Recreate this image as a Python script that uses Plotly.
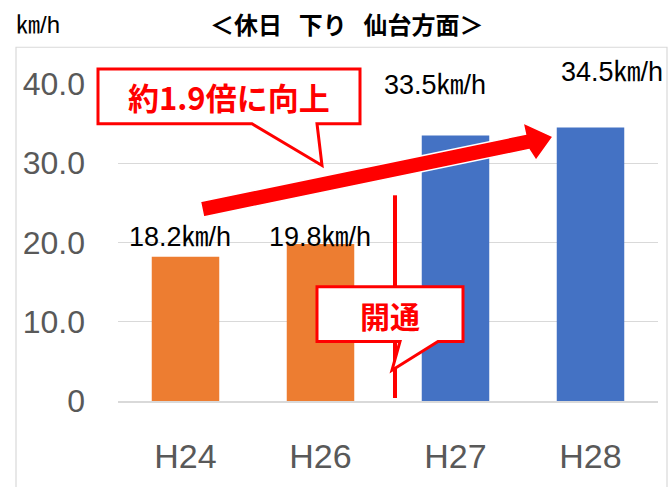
import plotly.graph_objects as go

# ---- data ----
categories = ["H24", "H26", "H27", "H28"]
speeds = [18.2, 19.8, 33.5, 34.5]
bar_colors = ["#ED7D31", "#ED7D31", "#4472C4", "#4472C4"]
y_tickvals = [0, 10, 20, 30, 40]
y_ticktext = ["0", "10.0", "20.0", "30.0", "40.0"]
title_text = "＜休日\u2002\u2009下り\u2002\u2009仙台方面＞"
unit_text = "㎞/h"
callout_ratio_text = "約1.9倍に向上"
callout_open_text = "開通"

# label placement (layout, not data): pixel centres
label_px = [(180, 238), (320, 238), (435, 85), (612, 72)]

W, H = 671, 487
ML, MR, MT, MB = 118, 13, 84, 84
PW, PH = W - ML - MR, H - MT - MB


def px(x):
    return (x - ML) / PW


def py(y):
    return (H - MB - y) / PH


def path(points):
    return "M " + " L ".join(f"{px(a):.5f},{py(b):.5f}" for a, b in points) + " Z"


fig = go.Figure()
fig.add_trace(go.Bar(
    x=categories, y=speeds, marker=dict(color=bar_colors, line=dict(width=0)),
    width=0.5, hoverinfo="skip",
))

shapes = []
# outer chart border
shapes.append(dict(type="rect", xref="paper", yref="paper",
                   x0=px(16), x1=px(667), y0=py(500), y1=py(47),
                   line=dict(color="#D9D9D9", width=1.2), fillcolor="rgba(0,0,0,0)",
                   layer="below"))
# vertical red "opening" line
shapes.append(dict(type="line", xref="paper", yref="paper",
                   x0=px(395), x1=px(395), y0=py(196), y1=py(400),
                   line=dict(color="#FF0000", width=4), layer="above"))
# big red arrow
arrow_pts = [(200.4, 202.2), (525.5, 134.5), (523.0, 123.0), (553.0, 137.0),
             (536.0, 161.0), (529.0, 150.0), (203.6, 217.8)]
shapes.append(dict(type="path", xref="paper", yref="paper", path=path(arrow_pts),
                   fillcolor="#FF0000", line=dict(color="white", width=1.5), layer="above"))
# callout 1
c1 = [(98, 69), (360, 69), (360, 124), (317, 124), (322, 166), (252, 124), (98, 124)]
shapes.append(dict(type="path", xref="paper", yref="paper", path=path(c1),
                   fillcolor="white", line=dict(color="#FF0000", width=3), layer="above"))
# callout 2
c2 = [(317, 288), (463, 288), (463, 343), (438, 343), (392, 372), (400, 343), (317, 343)]
shapes.append(dict(type="path", xref="paper", yref="paper", path=path(c2),
                   fillcolor="white", line=dict(color="#FF0000", width=3), layer="above"))

annotations = []
for (c, v, (lx, ly)) in zip(categories, speeds, label_px):
    annotations.append(dict(
        x=px(lx), y=py(ly), xref="paper", yref="paper",
        text=f"{v}{unit_text}", showarrow=False,
        font=dict(size=27, color="#000000", family="Liberation Sans, Arial, Noto Sans CJK JP"),
        xanchor="center", yanchor="middle",
    ))
annotations.append(dict(x=px(347), y=py(23), xref="paper", yref="paper",
                        text=f"<b>{title_text}</b>", showarrow=False,
                        font=dict(size=24, color="#000000", family="Noto Sans CJK JP"),
                        xanchor="center", yanchor="middle"))
annotations.append(dict(x=px(14), y=py(24), xref="paper", yref="paper",
                        text=unit_text, showarrow=False,
                        font=dict(size=24, color="#000000", family="Liberation Sans, Noto Sans CJK JP"),
                        xanchor="left", yanchor="middle"))
annotations.append(dict(x=px(229), y=py(97), xref="paper", yref="paper",
                        text=f"<b>{callout_ratio_text}</b>", showarrow=False,
                        font=dict(size=31, color="#FF0000", family="Noto Sans CJK JP"),
                        xanchor="center", yanchor="middle"))
annotations.append(dict(x=px(390), y=py(316), xref="paper", yref="paper",
                        text=f"<b>{callout_open_text}</b>", showarrow=False,
                        font=dict(size=30, color="#FF0000", family="Noto Sans CJK JP"),
                        xanchor="center", yanchor="middle"))

fig.update_layout(
    width=W, height=H,
    margin=dict(l=ML, r=MR, t=MT, b=MB, pad=0),
    paper_bgcolor="white", plot_bgcolor="white",
    showlegend=False, bargap=0.5,
    shapes=shapes, annotations=annotations,
    xaxis=dict(
        type="category", showgrid=False, showline=True, linecolor="#D9D9D9", linewidth=1.5,
        ticks="", tickfont=dict(size=34, color="#595959", family="Liberation Sans, Arial"),
        ticklabelstandoff=24, fixedrange=True,
    ),
    yaxis=dict(
        range=[0, 40], tickvals=y_tickvals, ticktext=y_ticktext,
        showgrid=True, gridcolor="#D9D9D9", gridwidth=1.2, zeroline=False,
        showline=False, ticks="",
        tickfont=dict(size=32, color="#595959", family="Liberation Sans, Arial"),
        ticklabelstandoff=32, fixedrange=True,
    ),
)

fig.write_html("out.html", config={"displayModeBar": False},
               post_script="document.body.style.margin='0';document.body.style.overflow='hidden';")
